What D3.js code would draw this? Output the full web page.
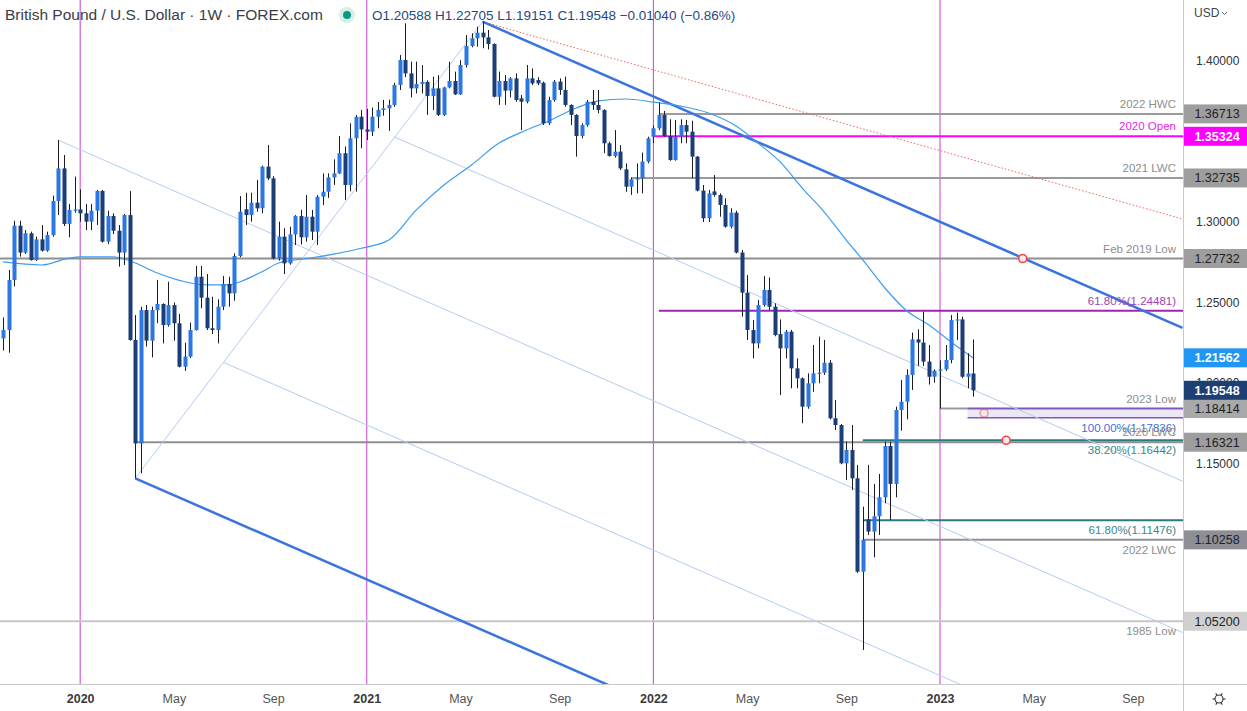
<!DOCTYPE html>
<html>
<head>
<meta charset="utf-8">
<script src="https://cdn.jsdelivr.net/npm/d3@7"></script>
<style>
body { margin: 0; background: #fff; }
svg { display: block; font-family: "Liberation Sans", Arial, sans-serif; }
</style>
</head>
<body>
<svg id="chart" width="1247" height="711"></svg>
<script>
// GBP/USD weekly candles, first bar = week of 30 Sep 2019, last = week of 13 Feb 2023
var firstWeek = "2019-09-30";
var opens = [
1.2277,1.2329,1.2640,1.2977,1.2810,1.2930,1.2764,1.2892,1.2822,1.2919,
1.3130,1.3333,1.2988,1.3070,1.3078,1.3054,1.3002,1.3070,1.3193,1.2878,
1.3037,1.2946,1.2810,1.3043,1.2267,1.1625,1.2453,1.2263,1.2453,1.2491,
1.2360,1.2484,1.2371,1.2101,1.2164,1.2329,1.2660,1.2530,1.2340,1.2329,
1.2474,1.2615,1.2557,1.2789,1.3079,1.3043,1.3120,1.3085,1.3344,1.3271,
1.2774,1.2909,1.2743,1.2923,1.3037,1.2905,1.3033,1.2940,1.3157,1.3188,
1.3277,1.3302,1.3427,1.3230,1.3520,1.3654,1.3575,1.3561,1.3654,1.3696,
1.3706,1.3727,1.3851,1.4006,1.3923,1.3830,1.3857,1.3870,1.3783,1.3830,
1.3665,1.3836,1.3876,1.3793,1.3975,1.4093,1.4141,1.4176,1.4147,1.4106,
1.3778,1.3876,1.3816,1.3892,1.3768,1.3747,1.3892,1.3882,1.3865,1.3613,
1.3758,1.3872,1.3820,1.3727,1.3665,1.3534,1.3602,1.3747,1.3727,1.3696,
1.3489,1.3410,1.3437,1.3327,1.3219,1.3265,1.3271,1.3375,1.3530,1.3582,
1.3665,1.3534,1.3385,1.3530,1.3602,1.3561,1.3406,1.3195,1.3023,1.3190,
1.3168,1.3106,1.2971,1.3058,1.2810,1.2561,1.2329,1.2246,1.2484,1.2578,
1.2474,1.2304,1.2215,1.2319,1.2091,1.2029,1.1853,1.1998,1.2060,1.2064,
1.2126,1.1781,1.1739,1.1501,1.1584,1.1408,1.0828,1.1153,1.1077,1.1172,
1.1290,1.1609,1.1373,1.1832,1.1884,1.2050,1.2271,1.2251,1.2133,1.2039,
1.2077,1.2085,1.2143,1.2391,1.2395,1.2039,1.20588];
var highs = [
1.2408,1.2702,1.3008,1.3008,1.2950,1.2940,1.2909,1.2981,1.2940,1.3164,
1.3509,1.3416,1.3112,1.3282,1.3203,1.3112,1.3112,1.3199,1.3199,1.3070,
1.3054,1.2981,1.3050,1.3193,1.2422,1.2474,1.2484,1.2474,1.2640,1.2495,
1.2629,1.2500,1.2429,1.2250,1.2375,1.2727,1.2727,1.2677,1.2536,1.2520,
1.2665,1.2660,1.2805,1.3161,1.3182,1.3182,1.3261,1.3350,1.3478,1.3285,
1.3002,1.2961,1.2971,1.3043,1.3075,1.3168,1.3075,1.3168,1.3302,1.3302,
1.3389,1.3534,1.3470,1.3613,1.3665,1.3696,1.3703,1.3711,1.3745,1.3759,
1.3760,1.3865,1.4037,1.4234,1.3996,1.3996,1.3975,1.3880,1.3903,1.3913,
1.3840,1.3996,1.3934,1.4005,1.4161,1.4172,1.4213,1.4244,1.4193,1.4110,
1.3934,1.3913,1.3900,1.3923,1.3789,1.3975,1.3954,1.3900,1.3872,1.3778,
1.3882,1.3892,1.3903,1.3731,1.3670,1.3613,1.3758,1.3820,1.3820,1.3700,
1.3499,1.3571,1.3478,1.3364,1.3277,1.3364,1.3431,1.3530,1.3600,1.3741,
1.3690,1.3638,1.3634,1.3638,1.3634,1.3629,1.3410,1.3230,1.3199,1.3292,
1.3178,1.3147,1.3085,1.3070,1.2826,1.2671,1.2391,1.2516,1.2664,1.2656,
1.2495,1.2395,1.2330,1.2330,1.2153,1.2035,1.2060,1.2236,1.2288,1.2267,
1.2143,1.1894,1.1745,1.1636,1.1739,1.1491,1.1232,1.1491,1.1373,1.1435,
1.1636,1.1636,1.1853,1.2019,1.2085,1.2313,1.2333,1.2443,1.2236,1.2085,
1.2140,1.2236,1.2422,1.2437,1.2412,1.2185,1.22705];
var lows = [
1.2201,1.2188,1.2600,1.2785,1.2801,1.2760,1.2758,1.2816,1.2815,1.2909,
1.3043,1.2975,1.2905,1.3058,1.3002,1.2950,1.2950,1.2981,1.2872,1.2863,
1.2925,1.2723,1.2733,1.2263,1.1408,1.1439,1.2226,1.2159,1.2371,1.2246,
1.2350,1.2263,1.2097,1.2075,1.2155,1.2325,1.2464,1.2329,1.2304,1.2246,
1.2453,1.2474,1.2511,1.2781,1.2981,1.3002,1.3064,1.3054,1.3260,1.2768,
1.2760,1.2677,1.2735,1.2857,1.2860,1.2878,1.2888,1.2857,1.3105,1.3150,
1.3230,1.3298,1.3137,1.3190,1.3188,1.3458,1.3509,1.3534,1.3582,1.3660,
1.3566,1.3715,1.3820,1.3900,1.3774,1.3799,1.3799,1.3665,1.3696,1.3658,
1.3658,1.3830,1.3789,1.3789,1.3960,1.4085,1.4089,1.4079,1.4072,1.3774,
1.3727,1.3727,1.3774,1.3747,1.3571,1.3737,1.3850,1.3850,1.3602,1.3602,
1.3747,1.3790,1.3716,1.3602,1.3406,1.3520,1.3592,1.3696,1.3675,1.3427,
1.3406,1.3400,1.3323,1.3188,1.3168,1.3178,1.3178,1.3365,1.3490,1.3570,
1.3530,1.3380,1.3381,1.3489,1.3489,1.3271,1.3190,1.3000,1.3000,1.3157,
1.3033,1.2965,1.2960,1.2805,1.2412,1.2267,1.2153,1.2215,1.2474,1.2453,
1.2290,1.1925,1.2153,1.1967,1.1967,1.1750,1.1840,1.1946,1.1998,1.2050,
1.1774,1.1708,1.1495,1.1398,1.1335,1.0820,1.0342,1.1056,1.0917,1.1056,
1.1253,1.1149,1.1290,1.1704,1.1774,1.1957,1.2106,1.2106,1.1990,1.2002,
1.1841,1.2075,1.2122,1.2267,1.2030,1.1967,1.19151];
var closes = [
1.2329,1.2640,1.2977,1.2810,1.2930,1.2764,1.2892,1.2822,1.2919,1.3130,
1.3333,1.2988,1.3075,1.3078,1.3054,1.3002,1.3070,1.3193,1.2878,1.3037,
1.2946,1.2810,1.3043,1.2267,1.1625,1.2453,1.2263,1.2453,1.2491,1.2360,
1.2484,1.2371,1.2101,1.2164,1.2329,1.2660,1.2530,1.2340,1.2329,1.2474,
1.2615,1.2557,1.2789,1.3064,1.3043,1.3120,1.3085,1.3344,1.3271,1.2774,
1.2909,1.2743,1.2923,1.3037,1.2905,1.3033,1.2940,1.3157,1.3188,1.3277,
1.3302,1.3427,1.3230,1.3520,1.3654,1.3575,1.3561,1.3654,1.3696,1.3706,
1.3727,1.3851,1.4006,1.3923,1.3830,1.3857,1.3870,1.3783,1.3830,1.3665,
1.3836,1.3876,1.3793,1.3975,1.4093,1.4141,1.4176,1.4147,1.4106,1.3778,
1.3876,1.3816,1.3892,1.3758,1.3747,1.3892,1.3861,1.3861,1.3613,1.3758,
1.3872,1.3820,1.3727,1.3665,1.3534,1.3602,1.3747,1.3727,1.3696,1.3489,
1.3410,1.3437,1.3333,1.3219,1.3265,1.3271,1.3375,1.3520,1.3582,1.3665,
1.3534,1.3385,1.3530,1.3602,1.3561,1.3406,1.3195,1.3023,1.3178,1.3168,
1.3106,1.2971,1.3058,1.2810,1.2561,1.2329,1.2246,1.2484,1.2578,1.2474,
1.2298,1.2215,1.2319,1.2091,1.2029,1.1853,1.1998,1.2060,1.2064,1.2126,
1.1781,1.1739,1.1501,1.1584,1.1408,1.0828,1.1026,1.1077,1.1172,1.1290,
1.1609,1.1373,1.1832,1.1884,1.2050,1.2271,1.2251,1.2133,1.2039,1.2077,
1.2085,1.2143,1.2391,1.2395,1.2039,1.2059,1.19548];

// moving average at some bars
var maBars = [0,7,12,14,20,22,24,28,33,37,41,43,47,50,53,56,60,65,70,75,80,85,90,95,99,104,108,113,118,123,128,133,137,141,145,149,153,156,160,164,168,172,176];
var maValues = [1.2752,1.2733,1.2776,1.2784,1.2784,1.2770,1.2745,1.2683,1.2629,1.2609,1.2609,1.2629,1.2691,1.2745,1.2764,1.2778,1.2801,1.2837,1.2888,1.3075,1.3230,1.3354,1.3490,1.3571,1.3627,1.3708,1.3752,1.3764,1.3745,1.3720,1.3677,1.3596,1.3490,1.3373,1.3211,1.3062,1.2888,1.2764,1.2590,1.2447,1.2360,1.2255,1.2156];

// horizontal levels
var levelNames = ["2022 HWC","2020 Open","2021 LWC","Feb 2019 Low","61.80%(1.24481)","2023 Low","100.00%(1.17836)","2020 LWC","38.20%(1.16442)","61.80%(1.11476)","2022 LWC","1985 Low"];
var levelPrices = [1.36713,1.35324,1.32735,1.27732,1.24481,1.18414,1.17836,1.16321,1.16442,1.11476,1.10258,1.05200];
var levelStartBars = [119,118,114,0,119,170,175,24,156,156,156,0];

// trend lines: [bar, price] from -> to
var trendFrom = [[10,1.3509],[71,1.3528],[40,1.2128],[24,1.1408],[87,1.4244],[87,1.4244],[24,1.1408]];
var trendTo = [[214,1.0450],[214,1.1390],[214,0.9525],[87,1.4244],[214,1.3019],[214,1.2342],[214,0.8565]];

// circle markers [bar, price]
var markers = [[185,1.27732],[182,1.16442],[178,1.1813]];

// the 1.05 / 1.10 / 1.35 ticks sit under price tags, so they are left out
var priceTicks = [1.15,1.20,1.25,1.30,1.40];
var timeTicks = ["2020-01-06","2020-05-04","2020-09-07","2021-01-04","2021-05-03","2021-09-06","2022-01-03","2022-05-02","2022-09-05","2023-01-02","2023-05-01","2023-09-04"];
var timeTickLabels = ["2020","May","Sep","2021","May","Sep","2022","May","Sep","2023","May","Sep"];
var yearLines = ["2020-01-06","2021-01-04","2022-01-03","2023-01-02"];

// price tags on the right axis
var tagValues = [1.36713,1.35324,1.32735,1.27732,1.21562,1.18414,1.16321,1.10258,1.05200,1.19548];

// ---- styles ----
var levelStyle = [
  {stroke:"#9b9b9b", w:2, text:"#8e8e8e", side:"above"},
  {stroke:"#ff00ff", w:2, text:"#e61ee6", side:"above"},
  {stroke:"#9b9b9b", w:2, text:"#8e8e8e", side:"above"},
  {stroke:"#8f8f8f", w:2, text:"#8e8e8e", side:"above"},
  {stroke:"#9c27b0", w:2, text:"#a043b4", side:"above"},
  {stroke:"#9b9b9b", w:2, text:"#8e8e8e", side:"above"},
  {stroke:"#7e57c2", w:1.5, text:"#3d6fd6", side:"below"},
  {stroke:"#8f8f8f", w:2, text:"#8e8e8e", side:"above"},
  {stroke:"#2b7a83", w:2, text:"#3a8790", side:"below"},
  {stroke:"#2b7a83", w:2, text:"#3a8790", side:"below"},
  {stroke:"#8f8f96", w:2, text:"#8e8e8e", side:"below"},
  {stroke:"#c6c6c6", w:2, text:"#8e8e8e", side:"below"}
];
var trendStyle = [
  {stroke:"#b3cdf2", w:1, dash:null},
  {stroke:"#b3cdf2", w:1, dash:null},
  {stroke:"#b3cdf2", w:1, dash:null},
  {stroke:"#b3cdf2", w:1, dash:null},
  {stroke:"#f0625a", w:1, dash:"1.5,2"},
  {stroke:"#3b73df", w:2.5, dash:null},
  {stroke:"#3b73df", w:2.5, dash:null}
];
var tagStyle = [
  {bg:"#9e9e9e", fg:"#222"},
  {bg:"#ff00ff", fg:"#fff"},
  {bg:"#9e9e9e", fg:"#222"},
  {bg:"#9e9e9e", fg:"#222"},
  {bg:"#2196f3", fg:"#fff"},
  {bg:"#a9a9a9", fg:"#222"},
  {bg:"#9e9e9e", fg:"#222"},
  {bg:"#8d8e96", fg:"#222"},
  {bg:"#d0d0d0", fg:"#222"},
  {bg:"#1e3f74", fg:"#fff"}
];

var bullColor = "#2b78e4";
var bearColor = "#1b3d78";

var svg = d3.select("#chart");
var width = 1247, height = 711;
var plotW = 1183, plotH = 684;

var parseDay = d3.utcParse("%Y-%m-%d");
var weeks = d3.utcMonday.range(parseDay(firstWeek), parseDay("2023-11-20"));

var x = d3.scaleUtc()
  .domain([parseDay(firstWeek), parseDay("2023-01-02")])
  .range([3, 940]);
var y = d3.scaleLinear()
  .domain([1.05, 1.40])
  .range([624.5, 61]);

function bx(i) { return x(weeks[i]); }

svg.append("rect").attr("width", width).attr("height", height).attr("fill", "#fff");

svg.append("defs").append("clipPath").attr("id", "plot-clip")
  .append("rect").attr("x", 0).attr("y", 0).attr("width", plotW).attr("height", plotH);

var plot = svg.append("g").attr("clip-path", "url(#plot-clip)");

// year separators
plot.selectAll(".year-line")
  .data(yearLines)
  .enter().append("line")
  .attr("class", "year-line")
  .attr("x1", function(d) { return x(parseDay(d)); })
  .attr("x2", function(d) { return x(parseDay(d)); })
  .attr("y1", 0).attr("y2", plotH)
  .attr("stroke", "#c63fd3").attr("stroke-width", 1);

// fib zone between 2023 low and 100% level
plot.append("rect")
  .attr("x", bx(levelStartBars[6]))
  .attr("y", y(levelPrices[5]))
  .attr("width", plotW - bx(levelStartBars[6]))
  .attr("height", y(levelPrices[6]) - y(levelPrices[5]))
  .attr("fill", "#ece8f6");

// horizontal levels
plot.selectAll(".level")
  .data(levelPrices)
  .enter().append("line")
  .attr("class", "level")
  .attr("x1", function(d, i) { return levelStartBars[i] == 0 ? 0 : bx(levelStartBars[i]); })
  .attr("x2", plotW)
  .attr("y1", function(d) { return y(d); })
  .attr("y2", function(d) { return y(d); })
  .attr("stroke", function(d, i) { return levelStyle[i].stroke; })
  .attr("stroke-width", function(d, i) { return levelStyle[i].w; });

// top border of the zone
plot.append("line")
  .attr("x1", bx(levelStartBars[6])).attr("x2", plotW)
  .attr("y1", y(levelPrices[5])).attr("y2", y(levelPrices[5]))
  .attr("stroke", "#7e57c2").attr("stroke-width", 1.5);

// trend lines
plot.selectAll(".trend")
  .data(trendFrom)
  .enter().append("line")
  .attr("class", "trend")
  .attr("x1", function(d) { return bx(d[0]); })
  .attr("y1", function(d) { return y(d[1]); })
  .attr("x2", function(d, i) { return bx(trendTo[i][0]); })
  .attr("y2", function(d, i) { return y(trendTo[i][1]); })
  .attr("stroke", function(d, i) { return trendStyle[i].stroke; })
  .attr("stroke-width", function(d, i) { return trendStyle[i].w; })
  .attr("stroke-dasharray", function(d, i) { return trendStyle[i].dash; });

// moving average
var maLine = d3.line()
  .x(function(d) { return bx(d); })
  .y(function(d, i) { return y(maValues[i]); })
  .curve(d3.curveMonotoneX);
plot.append("path")
  .datum(maBars)
  .attr("d", maLine)
  .attr("fill", "none")
  .attr("stroke", "#3d9cf0")
  .attr("stroke-width", 1.2);

// candles
var candles = plot.selectAll(".candle")
  .data(opens)
  .enter().append("g")
  .attr("class", "candle");

candles.append("line")
  .attr("x1", function(d, i) { return Math.round(bx(i)) + 0.5; })
  .attr("x2", function(d, i) { return Math.round(bx(i)) + 0.5; })
  .attr("y1", function(d, i) { return y(highs[i]); })
  .attr("y2", function(d, i) { return y(lows[i]); })
  .attr("stroke", "#1a1d24")
  .attr("stroke-width", 1);

candles.append("rect")
  .attr("x", function(d, i) { return Math.round(bx(i)) - 1.5; })
  .attr("width", 4)
  .attr("y", function(d, i) { return y(Math.max(d, closes[i])); })
  .attr("height", function(d, i) { return Math.max(1.2, Math.abs(y(d) - y(closes[i]))); })
  .attr("fill", function(d, i) { return closes[i] >= d ? bullColor : bearColor; });

// circle markers
plot.selectAll(".marker")
  .data(markers)
  .enter().append("circle")
  .attr("class", "marker")
  .attr("cx", function(d) { return bx(d[0]); })
  .attr("cy", function(d) { return y(d[1]); })
  .attr("r", 4)
  .attr("fill", "#fde9ea")
  .attr("stroke", "#f0444f")
  .attr("stroke-width", 1.6)
  .attr("opacity", function(d, i) { return i == 2 ? 0.45 : 1; });

// level labels
plot.selectAll(".level-label")
  .data(levelNames)
  .enter().append("text")
  .attr("class", "level-label")
  .attr("x", 1176)
  .attr("y", function(d, i) {
    var ly = y(levelPrices[i]);
    return levelStyle[i].side == "above" ? ly - 6 : ly + 14;
  })
  .attr("text-anchor", "end")
  .attr("font-size", "11.5px")
  .attr("fill", function(d, i) { return levelStyle[i].text; })
  .text(function(d) { return d; });

// axes
svg.append("line").attr("x1", 0).attr("x2", width).attr("y1", plotH + 0.5).attr("y2", plotH + 0.5)
  .attr("stroke", "#c9c9c9");
svg.append("line").attr("x1", plotW + 0.5).attr("x2", plotW + 0.5).attr("y1", 0).attr("y2", height)
  .attr("stroke", "#c9c9c9");

var yAxis = svg.append("g")
  .attr("transform", "translate(" + plotW + ",0)")
  .call(d3.axisRight(y).tickValues(priceTicks).tickSize(0).tickPadding(13).tickFormat(d3.format(".5f")));
yAxis.select(".domain").remove();
yAxis.selectAll("text")
  .attr("font-family", "Liberation Sans, Arial, sans-serif")
  .attr("font-size", "12px")
  .attr("fill", "#333");

var xAxis = svg.append("g")
  .attr("transform", "translate(0," + plotH + ")")
  .call(d3.axisBottom(x)
    .tickValues(timeTicks.map(parseDay))
    .tickSize(0).tickPadding(10)
    .tickFormat(function(d, i) { return timeTickLabels[i]; }));
xAxis.select(".domain").remove();
xAxis.selectAll("text")
  .attr("font-family", "Liberation Sans, Arial, sans-serif")
  .attr("font-size", "12.5px")
  .attr("fill", function(d, i) { return i % 3 == 0 ? "#3a3a3a" : "#555"; })
  .attr("font-weight", function(d, i) { return i % 3 == 0 ? "bold" : "normal"; });

// price tags
var tags = svg.selectAll(".tag")
  .data(tagValues)
  .enter().append("g")
  .attr("class", "tag")
  .attr("transform", function(d) { return "translate(" + (plotW + 1) + "," + y(d) + ")"; });
tags.append("rect")
  .attr("x", 0).attr("y", -9.5)
  .attr("width", width - plotW - 1).attr("height", 19)
  .attr("fill", function(d, i) { return tagStyle[i].bg; });
tags.append("text")
  .attr("x", 33).attr("y", 4.5)
  .attr("text-anchor", "middle")
  .attr("font-size", "12.5px")
  .attr("fill", function(d, i) { return tagStyle[i].fg; })
  .attr("font-weight", function(d, i) { return tagStyle[i].fg == "#fff" ? "bold" : "normal"; })
  .text(function(d) { return d3.format(".5f")(d); });

// header
var header = svg.append("g");
header.append("text")
  .attr("x", 5).attr("y", 20)
  .attr("font-size", "15.5px")
  .attr("fill", "#3a3d45")
  .text("British Pound / U.S. Dollar \u00b7 1W \u00b7 FOREX.com");
header.append("circle").attr("cx", 347).attr("cy", 15).attr("r", 8).attr("fill", "#d7efe9");
header.append("circle").attr("cx", 347).attr("cy", 15).attr("r", 4).attr("fill", "#089981");
header.append("text")
  .attr("x", 372).attr("y", 20)
  .attr("font-size", "13.5px")
  .attr("fill", "#27497f")
  .text("O1.20588 H1.22705 L1.19151 C1.19548 \u22120.01040 (\u22120.86%)");

// currency label
svg.append("text").attr("x", 1194).attr("y", 17)
  .attr("font-size", "12px").attr("fill", "#444").text("USD");
svg.append("path").attr("d", "M1222,12 l2.5,2.5 l2.5,-2.5")
  .attr("fill", "none").attr("stroke", "#666").attr("stroke-width", 1);

// settings icon
var gear = svg.append("g").attr("transform", "translate(1219,699)");
gear.append("circle").attr("r", 4).attr("fill", "none").attr("stroke", "#333").attr("stroke-width", 1.1);
gear.selectAll("line")
  .data(d3.range(0, 360, 60))
  .enter().append("line")
  .attr("x1", function(a) { return 4 * Math.cos(a * Math.PI / 180); })
  .attr("y1", function(a) { return 4 * Math.sin(a * Math.PI / 180); })
  .attr("x2", function(a) { return 6.5 * Math.cos(a * Math.PI / 180); })
  .attr("y2", function(a) { return 6.5 * Math.sin(a * Math.PI / 180); })
  .attr("stroke", "#333").attr("stroke-width", 1.1);
</script>
</body>
</html>
